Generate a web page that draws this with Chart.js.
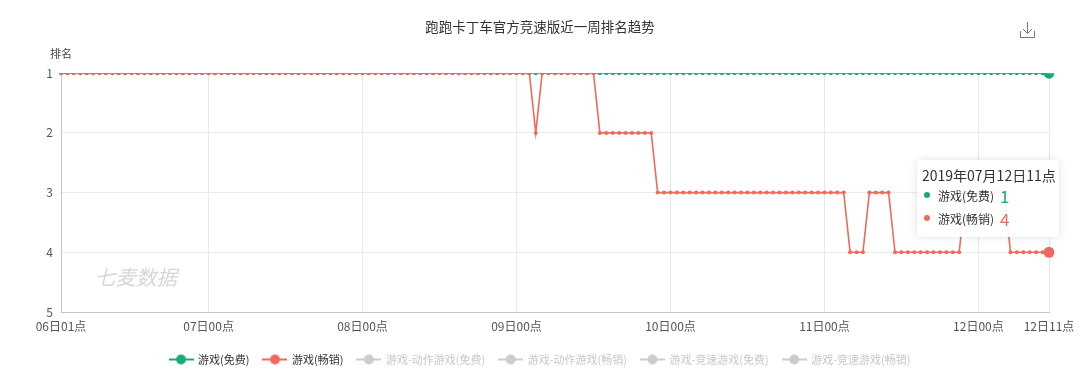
<!DOCTYPE html>
<html>
<head>
<meta charset="utf-8">
<script src="https://cdn.jsdelivr.net/npm/chart.js@4"></script>
<style>
  body { margin: 0; background: #fff; }
  #wrap { position: relative; width: 1080px; height: 380px; }
  #tip {
    position: absolute; display: none; box-sizing: border-box;
    width: 142px; height: 77px; padding: 6px 0 0 5px;
    background: rgba(255, 255, 255, 0.92); border-radius: 4px;
    box-shadow: 0 0 8px rgba(0, 0, 0, 0.12);
    font-family: "Noto Sans CJK SC", "Noto Sans", sans-serif; color: #333;
  }
  #tip .t { font-size: 14px; line-height: 18px; white-space: nowrap; }
  #tip .row { display: flex; align-items: center; height: 23px; }
  #tip .row i { display: inline-block; width: 6px; height: 6px; border-radius: 50%; margin: 0 8px 0 2px; }
  #tip .row span { font-size: 12px; width: 62px; }
  #tip .row b { font-size: 17px; font-weight: normal; }
</style>
</head>
<body>
<div id="wrap">
  <canvas id="c" width="1080" height="380"></canvas>
  <div id="tip"></div>
</div>
<script>
const chartTitle = '跑跑卡丁车官方竞速版近一周排名趋势'
const yTitle = '排名'
const watermark = '七麦数据'
const year = '2019'
const month = '07'

// hourly categories 06日01点 ... 12日11点
const days = ['06', '07', '08', '09', '10', '11', '12']
const firstHour = 1
const lastHour = 11
const categories = []
days.forEach((d, i) => {
  const from = i === 0 ? firstHour : 0
  const to = i === days.length - 1 ? lastHour : 23
  for (let h = from; h <= to; h++) {
    categories.push(`${d}日${String(h).padStart(2, '0')}点`)
  }
})

const tickLabels = ['06日01点', '07日00点', '08日00点', '09日00点', '10日00点', '11日00点', '12日00点', '12日11点']
const rankTicks = [1, 2, 3, 4, 5]

const seriesNames = ['游戏(免费)', '游戏(畅销)', '游戏-动作游戏(免费)', '游戏-动作游戏(畅销)', '游戏-竞速游戏(免费)', '游戏-竞速游戏(畅销)']
const seriesColors = ['#17a97b', '#ee6a5d']

const freeRank = [
  1,1,1,1,1,1,1,1,1,1,1,1,1,1,1,1,1,1,1,1,1,1,1,
  1,1,1,1,1,1,1,1,1,1,1,1,1,1,1,1,1,1,1,1,1,1,1,1,
  1,1,1,1,1,1,1,1,1,1,1,1,1,1,1,1,1,1,1,1,1,1,1,1,
  1,1,1,1,1,1,1,1,1,1,1,1,1,1,1,1,1,1,1,1,1,1,1,1,
  1,1,1,1,1,1,1,1,1,1,1,1,1,1,1,1,1,1,1,1,1,1,1,1,
  1,1,1,1,1,1,1,1,1,1,1,1,1,1,1,1,1,1,1,1,1,1,1,1,
  1,1,1,1,1,1,1,1,1,1,1,1
]

const grossingRank = [
  1,1,1,1,1,1,1,1,1,1,1,1,1,1,1,1,1,1,1,1,1,1,1,
  1,1,1,1,1,1,1,1,1,1,1,1,1,1,1,1,1,1,1,1,1,1,1,1,
  1,1,1,1,1,1,1,1,1,1,1,1,1,1,1,1,1,1,1,1,1,1,1,1,
  1,1,1,2,1,1,1,1,1,1,1,1,1,2,2,2,2,2,2,2,2,2,3,3,
  3,3,3,3,3,3,3,3,3,3,3,3,3,3,3,3,3,3,3,3,3,3,3,3,
  3,3,3,3,4,4,4,3,3,3,3,4,4,4,4,4,4,4,4,4,4,4,3,3,
  3,3,3,3,3,4,4,4,4,4,4,4
]

const legendIcon = color => {
  const c = document.createElement('canvas')
  c.width = 25
  c.height = 12
  const ctx = c.getContext('2d')
  ctx.strokeStyle = color
  ctx.lineWidth = 2
  ctx.beginPath()
  ctx.moveTo(0, 6)
  ctx.lineTo(25, 6)
  ctx.stroke()
  ctx.fillStyle = color
  ctx.beginPath()
  ctx.arc(12.5, 6, 5, 0, Math.PI * 2)
  ctx.fill()
  return c
}

const lineSeries = (i, data, order) => ({
  label: seriesNames[i],
  data,
  order,
  yAxisID: 'y',
  borderColor: seriesColors[i],
  backgroundColor: seriesColors[i],
  borderWidth: 1.6,
  tension: 0,
  pointRadius: 2,
  pointBorderWidth: 0,
  pointBackgroundColor: seriesColors[i],
  pointHoverRadius: 5.5,
  pointHoverBorderWidth: 0,
  pointHoverBackgroundColor: seriesColors[i]
})

const externalTooltip = ({ tooltip }) => {
  const tip = document.getElementById('tip')
  if (tooltip.opacity === 0) {
    tip.style.display = 'none'
    return
  }
  const points = [...tooltip.dataPoints].sort((a, b) => a.datasetIndex - b.datasetIndex)
  tip.innerHTML = `<div class="t">${year}年${month}月${tooltip.title[0]}</div>` +
    points.map(p => `<div class="row"><i style="background:${seriesColors[p.datasetIndex]}"></i>` +
      `<span>${p.dataset.label}</span><b style="color:${seriesColors[p.datasetIndex]}">${p.raw}</b></div>`).join('')
  tip.style.display = 'block'
  tip.style.left = (tooltip.caretX - 132) + 'px'
  tip.style.top = (tooltip.caretY - 3) + 'px'
}

const decorations = {
  id: 'decorations',
  beforeDatasetsDraw(chart) {
    const { ctx, chartArea } = chart
    ctx.save()
    ctx.font = 'italic 20.5px "Noto Sans CJK SC", sans-serif'
    ctx.fillStyle = '#d6d6d6'
    ctx.textBaseline = 'middle'
    ctx.fillText(watermark, chartArea.left + 34, chartArea.bottom - 35)
    ctx.restore()
  },
  afterDraw(chart) {
    const { ctx, chartArea } = chart
    ctx.save()
    ctx.font = '11px "Noto Sans CJK SC", sans-serif'
    ctx.fillStyle = '#444'
    ctx.textAlign = 'center'
    ctx.textBaseline = 'middle'
    ctx.fillText(yTitle, chartArea.left, chartArea.top - 19)

    // download icon
    const x = 1027
    const y = 30
    ctx.strokeStyle = '#777'
    ctx.lineWidth = 1
    ctx.beginPath()
    ctx.moveTo(x + 0.5, y - 8)
    ctx.lineTo(x + 0.5, y + 3)
    ctx.moveTo(x - 4, y - 1)
    ctx.lineTo(x + 0.5, y + 3.5)
    ctx.lineTo(x + 5, y - 1)
    ctx.moveTo(x - 6.5, y + 1)
    ctx.lineTo(x - 6.5, y + 7.5)
    ctx.lineTo(x + 7.5, y + 7.5)
    ctx.lineTo(x + 7.5, y + 1)
    ctx.stroke()
    ctx.restore()
  }
}

Chart.defaults.font.family = '"Noto Sans CJK SC", "Noto Sans", sans-serif'

const chart = new Chart(document.getElementById('c'), {
  type: 'line',
  data: {
    labels: categories,
    datasets: [
      lineSeries(0, freeRank, 1),
      lineSeries(1, grossingRank, 0),
      ...seriesNames.slice(2).map(name => ({ label: name, data: [], hidden: true, borderColor: '#ccc', yAxisID: 'y' }))
    ]
  },
  options: {
    responsive: false,
    animation: false,
    layout: { padding: { left: 0, right: 0, top: 0, bottom: 5 } },
    interaction: { mode: 'index', intersect: false },
    scales: {
      x: {
        offset: false,
        grid: {
          drawTicks: false,
          color: ctx => ctx.tick && tickLabels.includes(categories[ctx.tick.value]) ? '#e8e8e8' : 'rgba(0,0,0,0)'
        },
        border: { color: '#c4c4c4' },
        ticks: {
          autoSkip: false,
          maxRotation: 0,
          padding: 7,
          color: '#555',
          font: { size: 12 },
          callback(value) {
            const label = this.getLabelForValue(value)
            return tickLabels.includes(label) ? label : null
          }
        },
        afterFit(scale) {
          scale.height = 28
          scale.paddingLeft = 0
          scale.paddingRight = 0
        }
      },
      y: {
        reverse: true,
        min: rankTicks[0],
        max: rankTicks[rankTicks.length - 1],
        grid: { drawTicks: false, color: '#ebebeb' },
        border: { color: '#c4c4c4' },
        ticks: { stepSize: 1, padding: 8, color: '#555', font: { size: 12 } },
        afterFit(scale) {
          scale.width = 61
        }
      },
      // empty right-hand spacer so the plot ends where the reference does
      spacer: {
        position: 'right',
        display: true,
        grid: { display: false },
        border: { display: false },
        ticks: { display: false },
        afterFit(scale) {
          scale.width = 31
        }
      }
    },
    plugins: {
      title: {
        display: true,
        text: chartTitle,
        color: '#333',
        font: { size: 13.5, weight: 'normal' },
        padding: { top: 19, bottom: 38 }
      },
      legend: {
        position: 'bottom',
        onClick: () => {},
        labels: {
          usePointStyle: true,
          pointStyleWidth: 23,
          padding: 14,
          font: { size: 11 },
          generateLabels: c => c.data.datasets.map((ds, i) => ({
            text: ds.label,
            datasetIndex: i,
            hidden: false,
            fontColor: ds.hidden ? '#c8c8c8' : '#333',
            pointStyle: legendIcon(ds.hidden ? '#cccccc' : ds.borderColor),
            fillStyle: 'rgba(0,0,0,0)',
            strokeStyle: 'rgba(0,0,0,0)',
            lineWidth: 0
          }))
        }
      },
      tooltip: {
        enabled: false,
        external: externalTooltip
      }
    }
  },
  plugins: [decorations]
})

const last = categories.length - 1
const active = [{ datasetIndex: 0, index: last }, { datasetIndex: 1, index: last }]
chart.setActiveElements(active)
chart.tooltip.setActiveElements(active, { x: chart.scales.x.getPixelForValue(last), y: chart.chartArea.top })
chart.update()
</script>
</body>
</html>
